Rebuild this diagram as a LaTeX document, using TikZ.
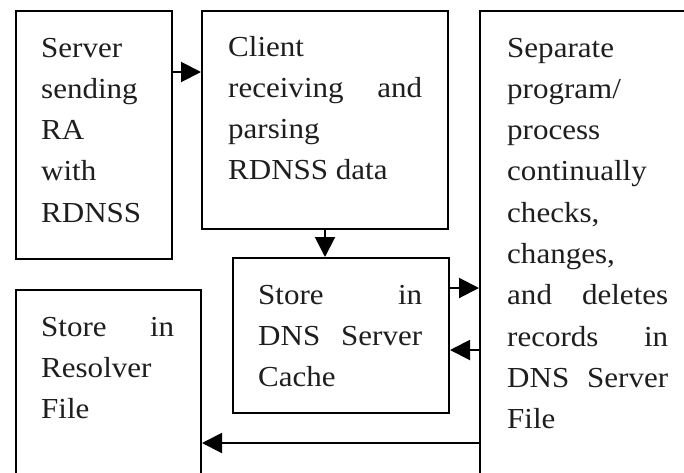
\documentclass[tikz,border=0pt]{standalone}
\usepackage{fontspec}
\setmainfont[FakeStretch=1.07]{Liberation Serif}
\usetikzlibrary{arrows.meta}
\definecolor{ink}{HTML}{1E1E1E}
\tikzset{
  box/.style={draw, line width=2pt, inner sep=0pt, anchor=north west},
  txt/.style={inner sep=0pt, anchor=base west, text=ink},
  arr/.style={line width=2pt, -{Triangle[length=20pt,width=20pt]}}
}
\newcommand{\boxtext}[2]{\parbox[t]{#1}{\fontsize{29}{41.3}\selectfont\setlength{\parindent}{0pt}#2}}
\newcommand{\jline}[1]{\makebox[\linewidth][s]{#1}}
\begin{document}
\begin{tikzpicture}[x=1pt,y=-1pt]
\useasboundingbox (0,0) rectangle (684,472);
\clip (0,0) rectangle (684,472);
\fill[white] (0,0) rectangle (684,472);
% boxes
\node[box, minimum width=156pt, minimum height=248pt] (b1) at (15,10) {};
\node[box, minimum width=246pt, minimum height=218pt] (b2) at (201,10) {};
\node[box, minimum width=216pt, minimum height=155pt] (b3) at (232,257) {};
\node[box, minimum width=185pt, minimum height=220pt] (b4) at (15,289) {};
\node[box, minimum width=240pt, minimum height=500pt] (b5) at (479,10) {};
% texts
\node[txt] (t1) at (41,57) {\boxtext{103pt}{Server\\ sending\\ RA\\ with\\ RDNSS}};
\node[txt] (t2) at (228,56) {\boxtext{194pt}{Client\\ \jline{receiving and}\\ parsing\\ RDNSS data}};
\node[txt] (t3) at (258,304) {\boxtext{164pt}{\jline{Store in}\\ \jline{DNS Server}\\ Cache}};
\node[txt] (t4) at (41,336) {\boxtext{133pt}{\jline{Store in}\\ Resolver\\ File}};
\node[txt] (t5) at (507,57) {\boxtext{161pt}{Separate\\ program/\\ process\\ continually\\ checks,\\ changes,\\ \jline{and deletes}\\ \jline{records in}\\ \jline{DNS Server}\\ File}};
% connector levels
\coordinate (ya) at (0,72);
\coordinate (yb) at (0,288);
\coordinate (yc) at (0,350);
\coordinate (yd) at (0,443);
% connectors
\draw[arr] (b1.east |- ya) -- (b2.west |- ya);
\draw[arr] (b2.south) -- (b2.south |- b3.north);
\draw[arr] (b3.east |- yb) -- (b5.west |- yb);
\draw[arr] (b5.west |- yc) -- (b3.east |- yc);
\draw[arr] (b5.west |- yd) -- (b4.east |- yd);
\end{tikzpicture}
\end{document}
